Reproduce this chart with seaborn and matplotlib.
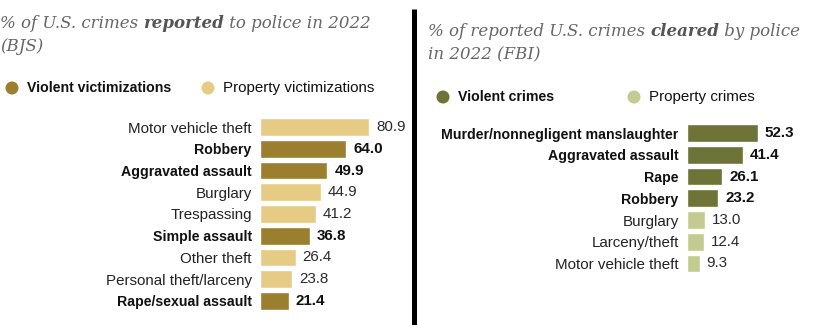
import matplotlib
matplotlib.use("Agg")
import matplotlib.pyplot as plt
from matplotlib.patches import Circle
import pandas as pd
import seaborn as sns

# BJS: share of victimizations reported to police, 2022
reported_labels = ["Motor vehicle theft", "Robbery", "Aggravated assault", "Burglary",
                   "Trespassing", "Simple assault", "Other theft",
                   "Personal theft/larceny", "Rape/sexual assault"]
reported_values = [80.9, 64.0, 49.9, 44.9, 41.2, 36.8, 26.4, 23.8, 21.4]
reported_types = ["Property", "Violent", "Violent", "Property", "Property",
                  "Violent", "Property", "Property", "Violent"]

# FBI: share of reported crimes cleared by police, 2022
cleared_labels = ["Murder/nonnegligent manslaughter", "Aggravated assault", "Rape",
                  "Robbery", "Burglary", "Larceny/theft", "Motor vehicle theft"]
cleared_values = [52.3, 41.4, 26.1, 23.2, 13.0, 12.4, 9.3]
cleared_types = ["Violent", "Violent", "Violent", "Violent",
                 "Property", "Property", "Property"]

left_palette = {"Violent": "#9c7e2f", "Property": "#e6cb85"}
right_palette = {"Violent": "#6e7337", "Property": "#c4cb91"}

W, H = 822, 325
DPI = 100
sns.set_theme(style="white")
plt.rcParams["font.family"] = ["Liberation Sans", "DejaVu Sans"]

fig = plt.figure(figsize=(W / DPI, H / DPI), dpi=DPI)
fig.patch.set_facecolor("white")

# overlay in pixel coordinates for titles, legends and the divider
ov = fig.add_axes([0, 0, 1, 1])
ov.set_xlim(0, W)
ov.set_ylim(H, 0)
ov.axis("off")

BOLD_SIZE = 10.2
REG_SIZE = 10.9
VALUE_SIZE = 10.9
PX_PER_UNIT = 1.35
ROW = 21.7


def px_axes(x0, y_top, width, height):
    return fig.add_axes([x0 / W, 1 - (y_top + height) / H, width / W, height / H])


def draw_panel(x0, first_center, labels, values, types, palette, xmax):
    n = len(labels)
    height = n * ROW
    ax = px_axes(x0, first_center - ROW / 2, xmax * PX_PER_UNIT, height)
    df = pd.DataFrame({"label": labels, "value": values, "type": types})
    sns.barplot(data=df, x="value", y="label", hue="type", palette=palette,
                dodge=False, legend=False, width=0.82, orient="h", ax=ax,
                saturation=1)
    ax.set_xlim(0, xmax)
    ax.set_ylim(n - 0.5, -0.5)
    ax.set_xlabel("")
    ax.set_ylabel("")
    ax.set_xticks([])
    for s in ax.spines.values():
        s.set_visible(False)
    ax.tick_params(axis="y", length=0, pad=6)
    ax.set_facecolor("none")
    for tl, t in zip(ax.get_yticklabels(), types):
        bold = t == "Violent"
        tl.set_fontsize(BOLD_SIZE if bold else REG_SIZE)
        tl.set_color("#111111" if bold else "#222222")
        tl.set_fontweight("bold" if bold else "normal")
    for i, (v, t) in enumerate(zip(values, types)):
        bold = t == "Violent"
        ax.annotate(f"{v:.1f}", xy=(v, i), xytext=(7, 0), textcoords="offset pixels",
                    ha="left", va="center", fontsize=VALUE_SIZE,
                    fontweight="bold" if bold else "normal",
                    color="#111111" if bold else "#2a2a2a",
                    annotation_clip=False)
    return ax


def title_line(x, y, parts, size=12):
    prev = None
    for text, weight in parts:
        kw = dict(fontsize=size, style="italic", weight=weight,
                  family=["DejaVu Serif"],
                  color="#666666" if weight == "normal" else "#555555")
        if prev is None:
            prev = ov.text(x, y, text, ha="left", va="baseline", **kw)
        else:
            prev = ov.annotate(text, xy=(1, 0), xycoords=prev, ha="left", va="bottom", **kw)


def legend_item(x, y, color, text, weight):
    ov.add_patch(Circle((x, y), 6.5, color=color, lw=0))
    ov.text(x + 15, y, text, ha="left", va="center",
            fontsize=BOLD_SIZE if weight == "bold" else REG_SIZE,
            fontweight=weight, color="#111111")


draw_panel(260, 127.2, reported_labels, reported_values, reported_types, left_palette, 103)
draw_panel(687, 133.2, cleared_labels, cleared_values, cleared_types, right_palette, 98)

title_line(0, 28, [("% of U.S. crimes ", "normal"), ("reported", "bold"),
                   (" to police in 2022", "normal")])
title_line(0, 51, [("(BJS)", "normal")])
title_line(428, 36, [("% of reported U.S. crimes ", "normal"), ("cleared", "bold"),
                     (" by police", "normal")])
title_line(428, 59, [("in 2022 (FBI)", "normal")])

legend_item(12, 88, left_palette["Violent"], "Violent victimizations", "bold")
legend_item(208, 88, left_palette["Property"], "Property victimizations", "normal")
legend_item(443, 97, right_palette["Violent"], "Violent crimes", "bold")
legend_item(634, 97, right_palette["Property"], "Property crimes", "normal")

# divider between the two panels
ov.plot([413.5, 413.5], [9, H], color="black", lw=3.6, solid_capstyle="butt")

fig.savefig("out.png", dpi=DPI, facecolor="white")
